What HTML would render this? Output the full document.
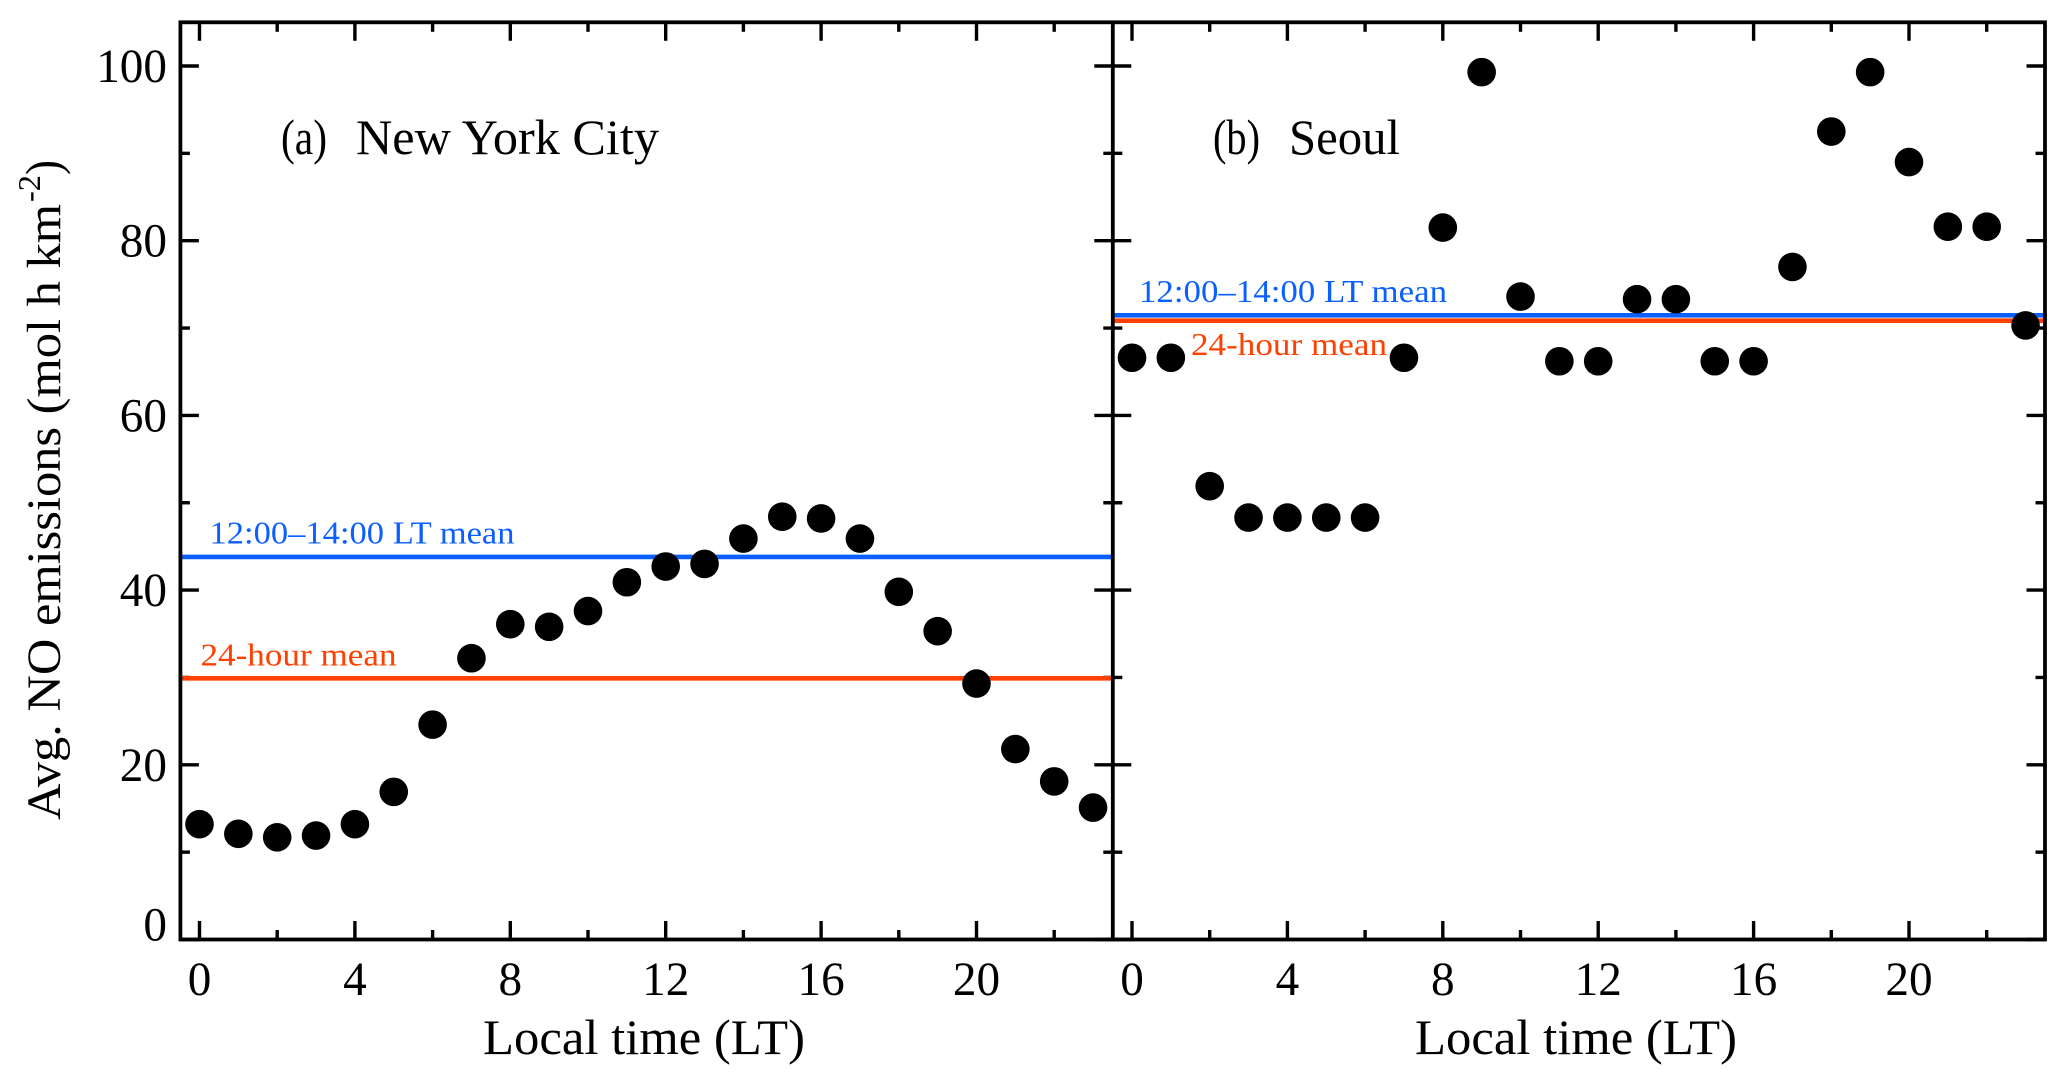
<!DOCTYPE html>
<html lang="en">
<head>
<meta charset="utf-8">
<title>Average NO emissions by local time</title>
<style>
html,body{margin:0;padding:0;background:#fff;width:2067px;height:1085px;overflow:hidden}
svg{display:block}
text{font-family:"Liberation Serif",serif;fill:#000}
</style>
</head>
<body>
<svg id="chart" width="2067" height="1085" viewBox="0 0 2067 1085" xmlns="http://www.w3.org/2000/svg">
<rect x="0" y="0" width="2067" height="1085" fill="#fff"/>
<g id="ticks"></g>
<g id="means"></g>
<g id="points"></g>
<g id="frame" fill="none" stroke="#000" stroke-width="3.8">
<rect x="180.4" y="22.3" width="1864.6" height="917.2"/>
<line x1="1112.8" y1="22.3" x2="1112.8" y2="939.5"/>
</g>
<g id="labels"></g>
<text x="281" y="154" font-size="50" textLength="46" lengthAdjust="spacingAndGlyphs">(a)</text>
<text x="356" y="154" font-size="50" textLength="303" lengthAdjust="spacingAndGlyphs">New York City</text>
<text x="1213" y="154" font-size="50" textLength="47" lengthAdjust="spacingAndGlyphs">(b)</text>
<text x="1289" y="154" font-size="50" textLength="111" lengthAdjust="spacingAndGlyphs">Seoul</text>
<text x="483" y="1054" font-size="50" textLength="322" lengthAdjust="spacingAndGlyphs">Local time (LT)</text>
<text x="1415" y="1054" font-size="50" textLength="322" lengthAdjust="spacingAndGlyphs">Local time (LT)</text>
<text transform="translate(60,820) rotate(-90)" font-size="48" textLength="616" lengthAdjust="spacingAndGlyphs">Avg. NO emissions (mol h km</text>
<text transform="translate(40,202) rotate(-90)" font-size="32" textLength="27" lengthAdjust="spacingAndGlyphs">-2</text>
<text transform="translate(60,175) rotate(-90)" font-size="50" textLength="15" lengthAdjust="spacingAndGlyphs">)</text>
<text x="209.5" y="543.7" font-size="32" style="fill:#0a5fff" textLength="305" lengthAdjust="spacingAndGlyphs">12:00–14:00 LT mean</text>
<text x="200.5" y="665.7" font-size="32" style="fill:#ff4000" textLength="196" lengthAdjust="spacingAndGlyphs">24-hour mean</text>
<text x="1139" y="302" font-size="32" style="fill:#0a5fff" textLength="308" lengthAdjust="spacingAndGlyphs">12:00–14:00 LT mean</text>
<text x="1191" y="355" font-size="32" style="fill:#ff4000" textLength="196" lengthAdjust="spacingAndGlyphs">24-hour mean</text>
</svg>
<script>
const hours = [0,1,2,3,4,5,6,7,8,9,10,11,12,13,14,15,16,17,18,19,20,21,22,23];
const nycValues = [13.2,12.1,11.7,11.9,13.2,16.9,24.6,32.2,36.1,35.8,37.6,40.9,42.7,43.0,45.9,48.4,48.2,45.9,39.8,35.3,29.3,21.8,18.1,15.1];
const seoulValues = [66.6,66.6,51.9,48.3,48.3,48.3,48.3,66.6,81.5,99.3,73.6,66.2,66.2,73.3,73.3,66.2,66.2,77.0,92.5,99.3,89.0,81.6,81.6,70.3];
const nycMeans = [43.8,29.9];
const seoulMeans = [71.46,70.84];
const yTickLabels = [0,20,40,60,80,100];
const yMinorTicks = [10,30,50,70,90];
const xTickLabels = [0,4,8,12,16,20];
const xMinorTicks = [2,6,10,14,18,22];

const NS = 'http://www.w3.org/2000/svg';
const X_ORIGIN_A = 199.5, X_ORIGIN_B = 1132, X_UNIT = 38.85;
const Y_ZERO = 939.5, Y_UNIT = 8.735, TOP = 22.3, BOTTOM = 939.5;
const LEFT = 180.4, MID = 1112.8, RIGHT = 2045;
const MAJOR = 18.5, MINOR = 9.5;
const BLUE = '#0a5fff', RED = '#ff4000';

function xA(h){ return X_ORIGIN_A + h * X_UNIT; }
function xB(h){ return X_ORIGIN_B + h * X_UNIT; }
function y(v){ return Y_ZERO - v * Y_UNIT; }

function tickLine(parent, x1, y1, x2, y2){
  const el = document.createElementNS(NS, 'line');
  
  
  el.setAttribute('x1', x1);
  el.setAttribute('y1', y1);
  el.setAttribute('x2', x2);
  el.setAttribute('y2', y2);
  el.setAttribute('stroke', '#000');
  el.setAttribute('stroke-width', '3.4');
  parent.appendChild(el);
}

function label(parent, text, x, yy, anchor){
  const el = document.createElementNS(NS, 'text');
  
  
  el.setAttribute('x', x);
  el.setAttribute('y', yy);
  el.setAttribute('font-size', '48');
  el.setAttribute('text-anchor', anchor);
  el.setAttribute('textLength', String(text.length * 23.6));
  el.setAttribute('lengthAdjust', 'spacingAndGlyphs');
  el.textContent = text;
  parent.appendChild(el);
}

function meanLine(parent, v, x1, x2, color){
  const el = document.createElementNS(NS, 'line');
  
  
  el.setAttribute('x1', x1);
  el.setAttribute('y1', y(v));
  el.setAttribute('x2', x2);
  el.setAttribute('y2', y(v));
  el.setAttribute('stroke', color);
  el.setAttribute('stroke-width', '4.6');
  parent.appendChild(el);
}

function dots(parent, values, xFn){
  hours.forEach(function(h, i){
    const el = document.createElementNS(NS, 'circle');
    
    
    el.setAttribute('cx', xFn(h));
    el.setAttribute('cy', y(values[i]));
    el.setAttribute('r', '14.3');
    el.setAttribute('fill', '#000');
    parent.appendChild(el);
  });
}

const ticks = document.getElementById('ticks');
const labels = document.getElementById('labels');
const means = document.getElementById('means');
const points = document.getElementById('points');

[xA, xB].forEach(function(fx){
  xTickLabels.forEach(function(h){
    tickLine(ticks, fx(h), TOP, fx(h), TOP + MAJOR);
    tickLine(ticks, fx(h), BOTTOM, fx(h), BOTTOM - MAJOR);
    label(labels, String(h), fx(h), 995, 'middle');
  });
  xMinorTicks.forEach(function(h){
    tickLine(ticks, fx(h), TOP, fx(h), TOP + MINOR);
    tickLine(ticks, fx(h), BOTTOM, fx(h), BOTTOM - MINOR);
  });
});

yTickLabels.forEach(function(v){
  tickLine(ticks, LEFT, y(v), LEFT + MAJOR, y(v));
  tickLine(ticks, MID - MAJOR, y(v), MID + MAJOR, y(v));
  tickLine(ticks, RIGHT - MAJOR, y(v), RIGHT, y(v));
  label(labels, String(v), 167, v === 0 ? 940.5 : y(v) + 16, 'end');
});
yMinorTicks.forEach(function(v){
  tickLine(ticks, LEFT, y(v), LEFT + MINOR, y(v));
  tickLine(ticks, MID - MINOR, y(v), MID + MINOR, y(v));
  tickLine(ticks, RIGHT - MINOR, y(v), RIGHT, y(v));
});

meanLine(means, nycMeans[0], LEFT, MID, BLUE);
meanLine(means, nycMeans[1], LEFT, MID, RED);
meanLine(means, seoulMeans[0], MID, RIGHT, BLUE);
meanLine(means, seoulMeans[1], MID, RIGHT, RED);

dots(points, nycValues, xA);
dots(points, seoulValues, xB);
</script>
</body>
</html>
